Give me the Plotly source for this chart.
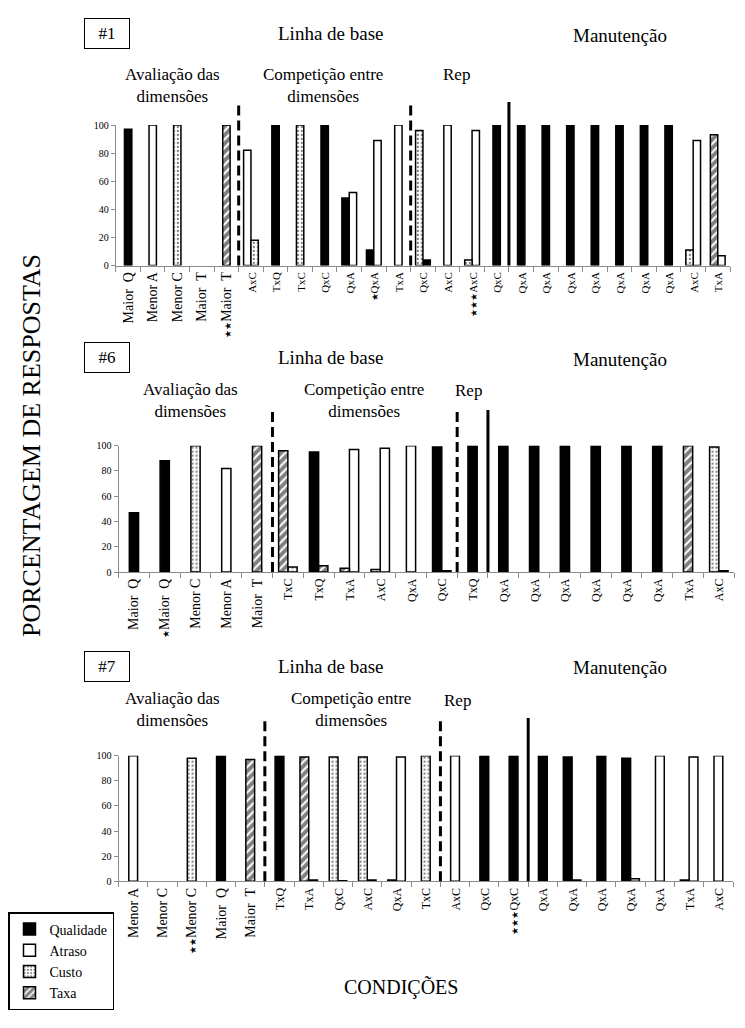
import plotly.graph_objects as go

W, H = 745, 1028
N = None

# ---------------- data ----------------
# Panel #1
p1_labels = ["Maior\u00a0\u00a0Q", "Menor A", "Menor C", "Maior\u00a0\u00a0T", "Maior\u00a0\u00a0T",
             "AxC", "TxQ", "TxC", "QxC", "QxA", "QxA", "TxA",
             "QxC", "AxC", "AxC", "QxC",
             "QxA", "QxA", "QxA", "QxA", "QxA", "QxA", "QxA", "AxC", "TxA"]
p1_stars = ["", "", "", "", "**", "", "", "", "", "", "*", "", "", "", "***", "",
            "", "", "", "", "", "", "", "", ""]
p1_qual = [97, N, N, N, N, N, 100, N, 100, 48, 11, N, 4, N, N, 100,
           100, 100, 100, 100, 100, 100, 100, N, N]
p1_atra = [N, 100, N, N, N, 82, N, N, N, 52, 89, 100, N, 100, 96, N,
           N, N, N, N, N, N, N, 89, 7]
p1_cust = [N, N, 100, N, N, 18, N, 100, N, N, N, N, 96, N, 4, N,
           N, N, N, N, N, N, N, 11, N]
p1_taxa = [N, N, N, N, 100, N, N, N, N, N, N, N, N, N, N, N,
           N, N, N, N, N, N, N, N, 93]
p1_left = ["", "", "", "", "", "A", "", "", "", "Q", "Q", "", "C", "", "C", "",
           "", "", "", "", "", "", "", "C", "T"]
p1_dashed = [5, 12]
p1_solid = [16]

# Panel #6
p2_labels = ["Maior\u00a0\u00a0Q", "Maior\u00a0\u00a0Q", "Menor C", "Menor A", "Maior\u00a0\u00a0T",
             "TxC", "TxQ", "TxA", "AxC", "QxA", "QxC",
             "TxQ",
             "QxA", "QxA", "QxA", "QxA", "QxA", "QxA", "TxA", "AxC"]
p2_stars = ["", "*", "", "", "", "", "", "", "", "", "", "", "", "", "", "", "", "", "", ""]
p2_qual = [47, 88, N, N, N, N, 95, N, N, N, 99, 100, 100, 100, 100, 100, 100, 100, N, N]
p2_atra = [N, N, N, 82, N, N, N, 97, 98, 100, N, N, N, N, N, N, N, N, N, 1]
p2_cust = [N, N, 100, N, N, 4, N, N, 2, N, 1, N, N, N, N, N, N, N, N, 99]
p2_taxa = [N, N, N, N, 100, 96, 5, 3, N, N, N, N, N, N, N, N, N, N, 100, N]
p2_left = ["", "", "", "", "", "T", "Q", "T", "C", "", "Q", "", "", "", "", "", "", "", "", "C"]
p2_dashed = [5, 11]
p2_solid = [12]

# Panel #7
p3_labels = ["Menor A", "Menor C", "Menor C", "Maior\u00a0\u00a0Q", "Maior\u00a0\u00a0T",
             "TxQ", "TxA", "QxC", "AxC", "QxA", "TxC",
             "AxC", "QxC", "QxC",
             "QxA", "QxA", "QxA", "QxA", "QxA", "TxA", "AxC"]
p3_stars = ["", "", "**", "", "", "", "", "", "", "", "", "", "", "***", "", "", "", "", "", "", ""]
p3_qual = [N, N, N, 100, N, 100, N, 0.5, N, 1, N, N, 100, 100, 100, 99, 100, 98, N, N, N]
p3_atra = [100, N, N, N, N, N, 1, N, 1, 99, N, 100, N, N, N, 1, N, 2, 100, 99, 100]
p3_cust = [N, N, 98, N, N, N, N, 99, 99, N, 100, N, N, N, N, N, N, N, N, N, N]
p3_taxa = [N, N, N, N, 97, N, 99, N, N, N, N, N, N, N, N, N, N, N, N, 1, N]
p3_left = ["", "", "", "", "", "", "T", "C", "C", "Q", "", "", "", "", "", "Q", "", "Q", "", "T", ""]
p3_dashed = [5, 11]
p3_solid = [14]

series_names = ["Qualidade", "Atraso", "Custo", "Taxa"]
series_codes = ["Q", "A", "C", "T"]

panel_titles = ["#1", "#6", "#7"]

# ---------------- layout geometry (pixels; page has an 8px body margin) ----------------
OFF = 8

def px(x):
    return (x - OFF) / W

def py(y):
    return 1 - (y - OFF) / H

panels = [
    dict(labels=p1_labels, stars=p1_stars, vals=[p1_qual, p1_atra, p1_cust, p1_taxa], left=p1_left,
         dashed=p1_dashed, solid=p1_solid, x0=115, x1=730, base=265.5, top100=125, septop=102,
         small=11, head_y=33, manut_y=35, aval=(172, 86), comp=(322, 86), rep=(456, 74)),
    dict(labels=p2_labels, stars=p2_stars, vals=[p2_qual, p2_atra, p2_cust, p2_taxa], left=p2_left,
         dashed=p2_dashed, solid=p2_solid, x0=117.7, x1=734.2, base=572, top100=445.7, septop=410,
         small=12, head_y=357, manut_y=359, aval=(190, 400), comp=(363, 400), rep=(468, 390)),
    dict(labels=p3_labels, stars=p3_stars, vals=[p3_qual, p3_atra, p3_cust, p3_taxa], left=p3_left,
         dashed=p3_dashed, solid=p3_solid, x0=117.7, x1=733, base=881.3, top100=755.7, septop=718,
         small=12, head_y=666, manut_y=667, aval=(172, 709), comp=(350, 709), rep=(457, 700)),
]

FONT = "Liberation Serif, Times New Roman, serif"
BW = 0.3  # bar width (category units)

def marker_for(code):
    if code == "Q":
        return dict(color="black", line=dict(color="black", width=1.5))
    if code == "A":
        return dict(color="white", line=dict(color="black", width=1.5))
    if code == "C":
        return dict(color="white", line=dict(color="black", width=1.5),
                    pattern=dict(shape=".", fgcolor="black", bgcolor="white", size=4, solidity=0.25))
    return dict(color="white", line=dict(color="black", width=1.5),
                pattern=dict(shape="/", fgcolor="black", bgcolor="white", size=6, solidity=0.65))

fig = go.Figure()
shapes = []
annotations = []

def add_text(text, x, y, size, **kw):
    annotations.append(dict(text=text, x=px(x), y=py(y), xref="paper", yref="paper",
                            xanchor="center", yanchor="middle", showarrow=False,
                            font=dict(family=FONT, size=size, color="black"), **kw))

for pi, p in enumerate(panels):
    n = len(p["labels"])
    ids = [f"p{pi}_{i}" for i in range(n)]
    xa = "x" if pi == 0 else f"x{pi+1}"
    ya = "y" if pi == 0 else f"y{pi+1}"
    for si, (name, code) in enumerate(zip(series_names, series_codes)):
        vals = p["vals"][si]
        offsets = []
        for i in range(n):
            cnt = sum(p["vals"][k][i] is not None for k in range(4))
            if vals[i] is None or cnt == 1:
                offsets.append(-BW / 2)
            else:
                offsets.append(-BW if p["left"][i] == code else 0.0)
        fig.add_trace(go.Bar(
            x=ids, y=vals, name=name, offset=offsets, width=BW,
            marker=marker_for(code), xaxis=xa, yaxis=ya,
            showlegend=(pi == 0), legendgroup=name, cliponaxis=False, hoverinfo="skip"))

    # tick texts
    ticktext = []
    for lab, st in zip(p["labels"], p["stars"]):
        big = lab.startswith("Maior") or lab.startswith("Menor")
        size = 14 if big else p["small"]
        s = ""
        if st:
            s += f"<span style='font-size:9px'>{'★' * len(st)}</span>"
        s += f"<span style='font-size:{size}px'>{lab}</span>"
        ticktext.append(s)

    dom_x = [px(p["x0"]), px(p["x1"])]
    dom_y = [py(p["base"]), py(p["top100"])]
    axis_common = dict(showline=True, linecolor="#8c8c8c", linewidth=1, ticks="outside",
                       tickcolor="#8c8c8c", showgrid=False, zeroline=False, automargin=False)
    fig.layout[("xaxis" if pi == 0 else f"xaxis{pi+1}")] = dict(
        domain=dom_x, anchor=ya, type="category", categoryorder="array", categoryarray=ids,
        tickmode="array", tickvals=ids, ticktext=ticktext, tickangle=-90, tickson="boundaries",
        ticklen=5, range=[-0.5, n - 0.5], tickfont=dict(family=FONT, size=14, color="black"),
        **axis_common)
    fig.layout[("yaxis" if pi == 0 else f"yaxis{pi+1}")] = dict(
        domain=dom_y, anchor=xa, range=[0, 100], tickmode="array", tickvals=[0, 20, 40, 60, 80, 100],
        ticklen=4, tickfont=dict(family=FONT, size=10, color="black"), **axis_common)

    # separators
    for b in p["dashed"]:
        shapes.append(dict(type="line", xref=xa, yref="paper", x0=b - 0.5, x1=b - 0.5,
                           y0=py(p["base"]), y1=py(p["septop"]),
                           line=dict(color="black", width=3, dash="10px,5px")))
    for b in p["solid"]:
        shapes.append(dict(type="line", xref=xa, yref="paper", x0=b - 0.5, x1=b - 0.5,
                           y0=py(p["base"]), y1=py(p["septop"]),
                           line=dict(color="black", width=3)))

    # headers
    add_text(panel_titles[pi], 106.5, p["head_y"], 17,
             bordercolor="black", borderwidth=1, width=42, height=27, bgcolor="white")
    add_text("Linha de base", 330, p["head_y"], 19)
    add_text("Manutenção", 620, p["manut_y"], 19)
    add_text("Avaliação das<br>dimensões", p["aval"][0], p["aval"][1], 17)
    add_text("Competição entre<br>dimensões", p["comp"][0], p["comp"][1], 17)
    add_text("Rep", p["rep"][0], p["rep"][1], 17)

add_text("PORCENTAGEM DE RESPOSTAS", 30, 445, 26, textangle=-90)
add_text("CONDIÇÕES", 401, 987, 20)

fig.update_layout(
    width=W, height=H, autosize=False,
    margin=dict(l=0, r=0, t=0, b=0),
    paper_bgcolor="white", plot_bgcolor="white",
    barmode="overlay",
    shapes=shapes, annotations=annotations,
    showlegend=True,
    legend=dict(x=px(7), y=py(912), xanchor="left", yanchor="top",
                bordercolor="black", borderwidth=1.5, bgcolor="white",
                font=dict(family=FONT, size=14, color="black"),
                tracegroupgap=0, itemwidth=30, traceorder="normal"),
    font=dict(family=FONT, color="black"),
)

fig.write_html("out.html")
